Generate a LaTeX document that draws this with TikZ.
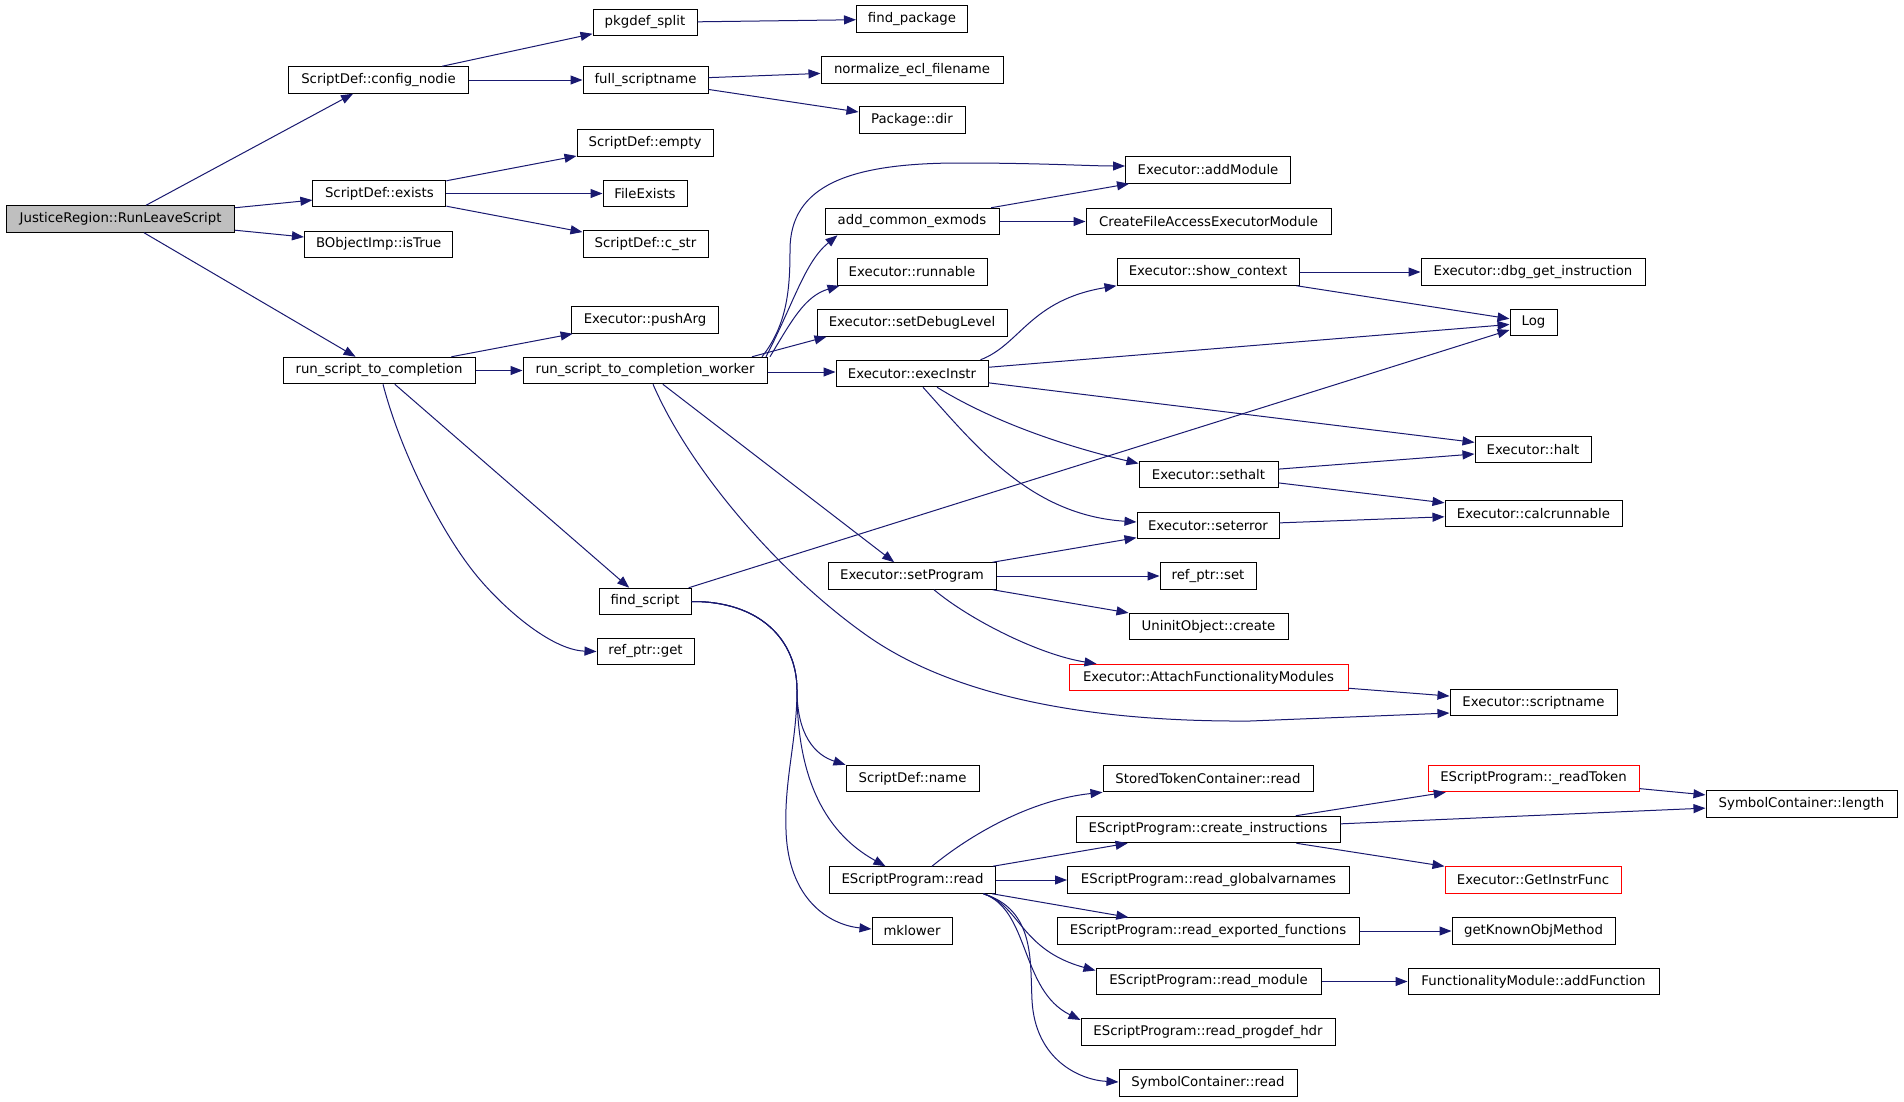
\documentclass[tikz,border=0pt]{standalone}
\usepackage{fontspec}
\setmainfont{DejaVu Sans}
\usetikzlibrary{arrows.meta,calc}
\definecolor{edgeblue}{HTML}{191970}
\definecolor{rootgray}{HTML}{BFBFBF}
\begin{document}
\begin{tikzpicture}[x=1pt,y=-1pt,
  box/.style={draw=black, line width=1pt, fill=white, minimum height=26.5pt, inner sep=0pt, font=\fontsize{13.3}{16}\selectfont, text=black},
  redbox/.style={box, draw=red},
  call/.style={draw=edgeblue, line width=1pt, -{Triangle[length=12pt,width=9pt]}}]
\fill[white] (0,0) rectangle (1904,1101);
\useasboundingbox (0,0) rectangle (1904,1101);

% nodes
\node[box, fill=rootgray, minimum width=228] (J) at (120.6,219) {JusticeRegion::RunLeaveScript};
\node[box, minimum width=180] (cn) at (378.5,80) {ScriptDef::config\_nodie};
\node[box, minimum width=133] (ex) at (379.4,193.5) {ScriptDef::exists};
\node[box, minimum width=148.5] (it) at (378.7,244.3) {BObjectImp::isTrue};
\node[box, minimum width=192] (rs) at (379,370.5) {run\_script\_to\_completion};
\node[box, minimum width=104] (ps) at (645,22.5) {pkgdef\_split};
\node[box, minimum width=125] (fs) at (645.5,80) {full\_scriptname};
\node[box, minimum width=111] (fp) at (912,19) {find\_package};
\node[box, minimum width=182] (ne) at (912,70) {normalize\_ecl\_filename};
\node[box, minimum width=106] (pd) at (912,120) {Package::dir};
\node[box, minimum width=136] (em) at (645,143) {ScriptDef::empty};
\node[box, minimum width=84] (fe) at (645,193.5) {FileExists};
\node[box, minimum width=125] (cs) at (645.5,244) {ScriptDef::c\_str};
\node[box, minimum width=147] (pa) at (645,320) {Executor::pushArg};
\node[box, minimum width=244] (wk) at (645,370.5) {run\_script\_to\_completion\_worker};
\node[box, minimum width=92] (fsc) at (645,601.5) {find\_script};
\node[box, minimum width=97] (rg) at (645.5,651.5) {ref\_ptr::get};
\node[box, minimum width=165] (am) at (1208,170) {Executor::addModule};
\node[box, minimum width=174] (ac) at (912,221.5) {add\_common\_exmods};
\node[box, minimum width=245] (cf) at (1208.5,221.5) {CreateFileAccessExecutorModule};
\node[box, minimum width=150] (rn) at (912,272) {Executor::runnable};
\node[box, minimum width=190] (sd) at (912,323) {Executor::setDebugLevel};
\node[box, minimum width=152] (ei) at (912,373.5) {Executor::execInstr};
\node[box, minimum width=182] (sc) at (1208,272) {Executor::show\_context};
\node[box, minimum width=224] (dg) at (1533,272) {Executor::dbg\_get\_instruction};
\node[box, minimum width=47] (lg) at (1533.5,322.5) {Log};
\node[box, minimum width=116] (ha) at (1533,449.5) {Executor::halt};
\node[box, minimum width=139] (sh) at (1208.5,474.5) {Executor::sethalt};
\node[box, minimum width=177] (cr) at (1533.5,513.5) {Executor::calcrunnable};
\node[box, minimum width=142] (se) at (1208,525.5) {Executor::seterror};
\node[box, minimum width=168] (sp) at (912,576) {Executor::setProgram};
\node[box, minimum width=96] (rps) at (1208,576) {ref\_ptr::set};
\node[box, minimum width=159] (uc) at (1208.5,626.5) {UninitObject::create};
\node[redbox, minimum width=279] (af) at (1208.5,677.5) {Executor::AttachFunctionalityModules};
\node[box, minimum width=167] (sn) at (1533.5,702.5) {Executor::scriptname};
\node[box, minimum width=133] (sdn) at (912.5,778.5) {ScriptDef::name};
\node[box, minimum width=210] (st) at (1208,778.5) {StoredTokenContainer::read};
\node[box, minimum width=264] (ci) at (1208,829.5) {EScriptProgram::create\_instructions};
\node[redbox, minimum width=211] (rt) at (1533.5,778.5) {EScriptProgram::\_readToken};
\node[box, minimum width=191] (sl) at (1801.5,804) {SymbolContainer::length};
\node[redbox, minimum width=176] (gi) at (1533,880) {Executor::GetInstrFunc};
\node[box, minimum width=166] (er) at (912.5,880) {EScriptProgram::read};
\node[box, minimum width=282] (rgv) at (1208.5,880) {EScriptProgram::read\_globalvarnames};
\node[box, minimum width=80] (ml) at (912,931) {mklower};
\node[box, minimum width=302] (ref) at (1208,931) {EScriptProgram::read\_exported\_functions};
\node[box, minimum width=163] (gk) at (1533.5,931) {getKnownObjMethod};
\node[box, minimum width=225] (rm) at (1208.5,981.5) {EScriptProgram::read\_module};
\node[box, minimum width=251] (fa) at (1533.5,981.5) {FunctionalityModule::addFunction};
\node[box, minimum width=254] (rph) at (1208,1032) {EScriptProgram::read\_progdef\_hdr};
\node[box, minimum width=178] (scr) at (1208,1083) {SymbolContainer::read};

% edges
\draw[call] (J) -- (cn);
\draw[call] (J) -- (ex);
\draw[call] (J) -- (it);
\draw[call] (J) -- (rs);
\draw[call] (cn) -- (ps);
\draw[call] (cn) -- (fs);
\draw[call] (ps) -- (fp);
\draw[call] (fs) -- (ne);
\draw[call] (fs) -- (pd);
\draw[call] (ex) -- (em);
\draw[call] (ex) -- (fe);
\draw[call] (ex) -- (cs);
\draw[call] (rs) -- (pa);
\draw[call] (rs) -- (wk);
\draw[call] (rs) -- (fsc);
\draw[call] ($(rs.south)+(4,0)$) .. controls (400,450) and (440,530) .. (474.5,573) .. controls (500,605) and (550,650) .. (rg.west);

\draw[call] ($(wk.north)+(117,0)$) .. controls (787,325) and (790,290) .. (790,250) .. controls (790,185) and (850,163) .. (960,163) .. controls (1040,163) and (1090,166) .. ($(am.west)+(0,-4)$);
\draw[call] ($(wk.north)+(121,0)$) .. controls (795,300) and (805,262) .. ($(ac.south west)+(13,0)$);
\draw[call] ($(wk.north)+(125,0)$) .. controls (792,320) and (805,296) .. ($(rn.south west)+(3,0)$);
\draw[call] ($(wk.north)+(107,0)$) -- ($(sd.south west)+(10,0)$);
\draw[call] ($(wk.east)+(0,1.5)$) -- ($(ei.west)+(0,-1.5)$);
\draw[call] (wk) -- (sp);
\draw[call] ($(wk.south)+(8,0)$) .. controls (690,470) and (780,575) .. (869,637) .. controls (960,700) and (1100,722) .. (1250,721) -- ($(sn.west)+(0,10.5)$);

\draw[call] (ac) -- (am);
\draw[call] (ac) -- (cf);

\draw[call] ($(ei.north east)+(-8,0)$) .. controls (1020,345) and (1030,300) .. (sc.south west);
\draw[call] (ei) -- (lg);
\draw[call] (ei) -- (ha);
\draw[call] ($(ei.south)+(25,0)$) .. controls (990,420) and (1060,445) .. ($(sh.west)+(0,-11)$);
\draw[call] ($(ei.south)+(11,0)$) .. controls (975,445) and (1030,515) .. ($(se.west)+(0,-3.5)$);

\draw[call] (sc) -- (dg);
\draw[call] (sc) -- (lg);
\draw[call] (sh) -- (ha);
\draw[call] (sh) -- (cr);
\draw[call] (se) -- (cr);

\draw[call] (fsc) -- (lg);
\draw[call] (fsc.east) .. controls (760,601) and (797,640) .. (797,690) .. controls (797,735) and (815,755) .. (sdn.north west);
\draw[call] (fsc.east) .. controls (760,601) and (797,640) .. (797,690) .. controls (797,770) and (820,830) .. ($(er.north)+(-27,0)$);
\draw[call] (fsc.east) .. controls (760,601) and (797,640) .. (797,690) .. controls (797,740) and (784,780) .. (786,830) .. controls (788,900) and (830,925) .. ($(ml.west)+(0,-2)$);

\draw[call] (sp) -- (se);
\draw[call] (sp) -- (rps);
\draw[call] (sp) -- (uc);
\draw[call] ($(sp.south)+(22,0)$) .. controls (970,620) and (1040,655) .. ($(af.north west)+(28,0)$);
\draw[call] (af) -- (sn);

\draw[call] ($(er.north)+(19.5,0)$) .. controls (970,835) and (1030,800) .. (st.south west);
\draw[call] (er) -- (ci);
\draw[call] (er) -- (rgv);
\draw[call] (er) -- (ref);
\draw[call] ($(er.south east)+(-12.6,0)$) .. controls (1020,905) and (1020,950) .. ($(rm.west)+(0,-11)$);
\draw[call] ($(er.south east)+(-12.6,0)$) .. controls (1030,910) and (1020,990) .. ($(rph.west)+(0,-12)$);
\draw[call] ($(er.south east)+(-12.6,0)$) .. controls (1035,910) and (1030,960) .. (1032,1000) .. controls (1035,1060) and (1080,1080) .. ($(scr.west)+(0,-1)$);

\draw[call] (ci) -- (rt);
\draw[call] (ci) -- (sl);
\draw[call] (ci) -- (gi);
\draw[call] (rt) -- (sl);
\draw[call] (ref) -- (gk);
\draw[call] (rm) -- (fa);
\end{tikzpicture}
\end{document}
